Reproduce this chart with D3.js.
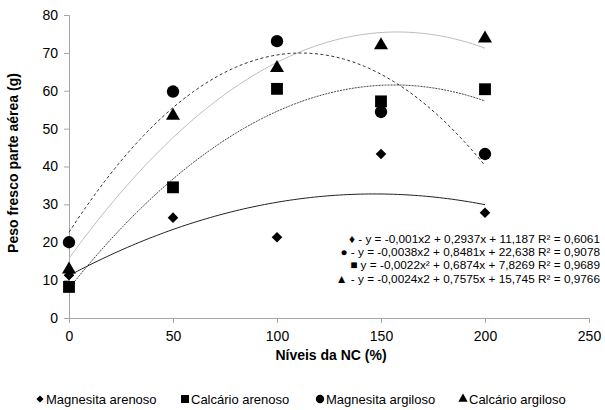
<!DOCTYPE html>
<html>
<head>
<meta charset="utf-8">
<script src="https://cdn.jsdelivr.net/npm/d3@7"></script>
<style>
  body { margin: 0; background: #fff; }
  text { font-family: Arial, "Liberation Sans", sans-serif; }
</style>
</head>
<body>
<div id="chart"></div>
<script>
// data
const levels = [0, 50, 100, 150, 200];
const magnesitaArenoso = [11.3, 26.5, 21.3, 43.3, 27.8];
const calcarioArenoso = [8.2, 34.5, 60.5, 57.2, 60.4];
const magnesitaArgiloso = [20.0, 59.8, 73.1, 54.4, 43.3];
const calcarioArgiloso = [12.8, 53.4, 66.0, 72.0, 73.8];

// trendline coefficients [a, b, c]  y = a x^2 + b x + c
const coefMA = [-0.001, 0.2937, 11.187];
const coefMG = [-0.0038, 0.8481, 22.638];
const coefCA = [-0.0022, 0.6874, 7.8269];
const coefCG = [-0.0024, 0.7575, 15.745];

const xTicks = [0, 50, 100, 150, 200, 250];
const yTicks = [0, 10, 20, 30, 40, 50, 60, 70, 80];

const equations = [
  "\u2666 - y = -0,001x2 + 0,2937x  + 11,187 R\u00b2 = 0,6061",
  "\u25cf - y = -0,0038x2 + 0,8481x + 22,638 R\u00b2 = 0,9078",
  "\u25a0 y = -0,0022x\u00b2 + 0,6874x + 7,8269 R\u00b2 = 0,9689",
  "\u25b2 - y = -0,0024x2 + 0,7575x + 15,745 R\u00b2 = 0,9766"
];

const W = 605, H = 410;
const margin = {top: 15, left: 69};
const plotW = 520, plotH = 303;

const svg = d3.select("#chart").append("svg")
  .attr("width", W).attr("height", H);

const g = svg.append("g")
  .attr("transform", `translate(${margin.left},${margin.top})`);

const x = d3.scaleLinear().domain([0, 250]).range([0, plotW]);
const y = d3.scaleLinear().domain([0, 80]).range([plotH, 0]);

// axes
const xAxis = g.append("g")
  .attr("transform", `translate(0,${plotH})`)
  .call(d3.axisBottom(x).tickValues(xTicks).tickSize(5).tickPadding(5));
const yAxis = g.append("g")
  .call(d3.axisLeft(y).tickValues(yTicks).tickSize(5).tickPadding(6));

[xAxis, yAxis].forEach(a => {
  a.select(".domain").attr("stroke", "#a6a6a6");
  a.selectAll(".tick line").attr("stroke", "#a6a6a6");
  a.selectAll(".tick text")
    .attr("fill", "#000")
    .style("font-size", "14px")
    .style("font-family", "Arial, 'Liberation Sans', sans-serif");
});
xAxis.selectAll(".tick text").attr("dy", "0.95em");

// trendlines
const curve = coef => d3.range(0, 200.5, 2).map(v => [v, coef[0] * v * v + coef[1] * v + coef[2]]);
const line = d3.line().x(d => x(d[0])).y(d => y(d[1]));

const trends = [
  {coef: coefCG, stroke: "#bdbdbd", dash: null},
  {coef: coefMA, stroke: "#222", dash: null},
  {coef: coefCA, stroke: "#444", dash: "2,1"},
  {coef: coefMG, stroke: "#333", dash: "3,2.5"}
];
trends.forEach(t => {
  g.append("path")
    .datum(curve(t.coef))
    .attr("d", line)
    .attr("fill", "none")
    .attr("stroke", t.stroke)
    .attr("stroke-width", 1)
    .attr("stroke-dasharray", t.dash);
});

// points (diamond = square turned 45deg)
const series = [
  {name: "Magnesita arenoso", values: magnesitaArenoso, sym: d3.symbolSquare, rot: 45, size: 56, leg: 26},
  {name: "Calcário arenoso", values: calcarioArenoso, sym: d3.symbolSquare, rot: 0, size: 140, leg: 64},
  {name: "Magnesita argiloso", values: magnesitaArgiloso, sym: d3.symbolCircle, rot: 0, size: 120, leg: 55},
  {name: "Calcário argiloso", values: calcarioArgiloso, sym: d3.symbolTriangle, rot: 0, size: 85, leg: 38}
];
series.forEach(s => {
  g.selectAll(null)
    .data(levels.map((l, i) => [l, s.values[i]]))
    .enter().append("path")
    .attr("transform", d => `translate(${x(d[0])},${y(d[1])}) rotate(${s.rot})`)
    .attr("d", d3.symbol().type(s.sym).size(s.size))
    .attr("fill", "#000");
});

// equations
svg.append("g").selectAll("text")
  .data(equations)
  .enter().append("text")
  .attr("x", 600)
  .attr("y", (d, i) => 243 + i * 13 + (i === 3 ? 1 : 0))
  .attr("text-anchor", "end")
  .style("font-size", "11.8px")
  .text(d => d);

// axis titles
svg.append("text")
  .attr("transform", "translate(18,163) rotate(-90)")
  .attr("text-anchor", "middle")
  .style("font-size", "14px")
  .style("font-weight", "bold")
  .text("Peso fresco parte aérea (g)");

svg.append("text")
  .attr("x", 331).attr("y", 360)
  .attr("text-anchor", "middle")
  .style("font-size", "14px")
  .style("font-weight", "bold")
  .text("Níveis da NC (%)");

// legend
const legendX = [40, 185, 320, 463];
series.forEach((s, i) => {
  svg.append("path")
    .attr("transform", `translate(${legendX[i]},399) rotate(${s.rot})`)
    .attr("d", d3.symbol().type(s.sym).size(s.leg))
    .attr("fill", "#000");
  svg.append("text")
    .attr("x", legendX[i] + 6).attr("y", 404)
    .style("font-size", "13px")
    .text(s.name);
});
</script>
</body>
</html>
